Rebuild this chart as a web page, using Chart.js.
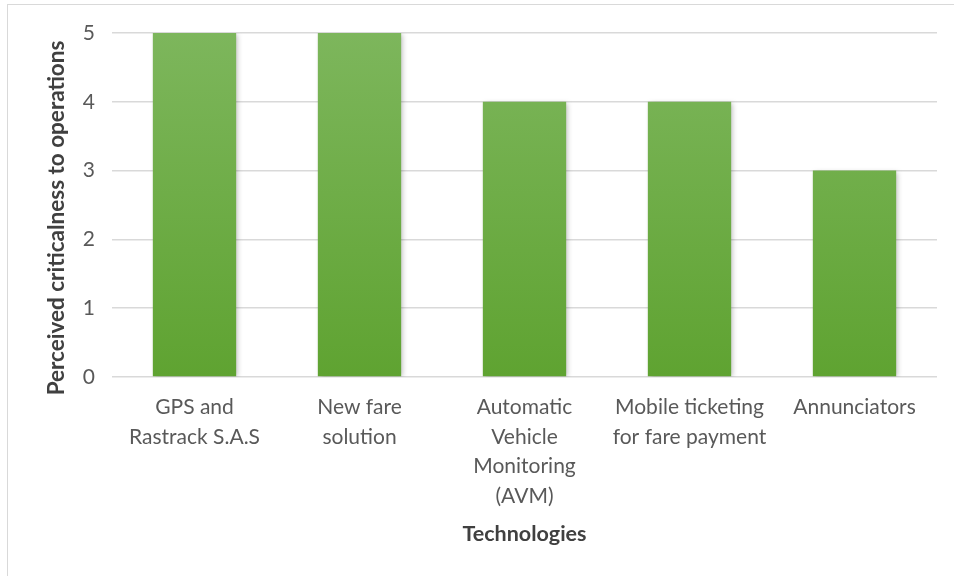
<!DOCTYPE html>
<html>
<head>
<meta charset="utf-8">
<script src="https://cdn.jsdelivr.net/npm/chart.js@4/dist/chart.umd.min.js"></script>
<style>
html,body{margin:0;padding:0;background:#fff;overflow:hidden;}
#wrap{position:relative;width:954px;height:576px;}
#frame{position:absolute;left:7px;top:4px;width:960px;height:600px;border-left:1.5px solid #d9d9d9;border-top:1.5px solid #d9d9d9;pointer-events:none;}
canvas{position:absolute;left:0;top:0;}
</style>
</head>
<body>
<div id="wrap">
<canvas id="c" width="954" height="576"></canvas>
<div id="frame"></div>
</div>
<script>
const categories = [
  ["GPS and", "Rastrack S.A.S"],
  ["New fare", "solution"],
  ["Automatic", "Vehicle", "Monitoring", "(AVM)"],
  ["Mobile ticketing", "for fare payment"],
  ["Annunciators"]
];
const criticalness = [5, 5, 4, 4, 3];
const yTicks = [0, 1, 2, 3, 4, 5];
const yTitle = 'Perceived criticalness to operations';
const xTitle = 'Technologies';

const FONT = "Lato, 'Open Sans', sans-serif";

function barGradient(ctx) {
  const chart = ctx.chart;
  const area = chart.chartArea;
  if (!area) return '#6aab44';
  const g = chart.ctx.createLinearGradient(0, area.top, 0, area.bottom);
  g.addColorStop(0, '#7db65c');
  g.addColorStop(1, '#5fa331');
  return g;
}

const shadowPlugin = {
  id: 'barShadow',
  beforeDatasetsDraw(chart) {
    const c = chart.ctx;
    c.save();
    c.shadowColor = 'rgba(0,0,0,0.25)';
    c.shadowBlur = 5;
    c.shadowOffsetX = 2;
    c.shadowOffsetY = 1;
  },
  afterDatasetsDraw(chart) {
    chart.ctx.restore();
  }
};

// y-axis title, placed slightly below the plot centre as in the original
const yTitlePlugin = {
  id: 'yTitle',
  afterDraw(chart) {
    const c = chart.ctx;
    const area = chart.chartArea;
    c.save();
    c.translate(57, (area.top + area.bottom) / 2 + 13);
    c.rotate(-Math.PI / 2);
    c.font = "bold 22.5px " + FONT;
    c.fillStyle = '#404040';
    c.textAlign = 'center';
    c.textBaseline = 'middle';
    c.fillText(yTitle, 0, 0);
    c.restore();
  }
};

new Chart(document.getElementById('c'), {
  type: 'bar',
  data: {
    labels: categories,
    datasets: [{
      data: criticalness,
      backgroundColor: barGradient,
      borderWidth: 0,
      barPercentage: 0.505,
      categoryPercentage: 1.0
    }]
  },
  options: {
    responsive: false,
    animation: false,
    layout: { padding: { left: 44, right: 17, top: 33, bottom: 29 } },
    plugins: { legend: { display: false }, tooltip: { enabled: false } },
    scales: {
      x: {
        afterFit(scale) { scale.height = 170; scale.paddingLeft = 0; scale.paddingRight = 0; },
        grid: { display: false },
        border: { display: false },
        ticks: {
          color: '#595959',
          font: { family: FONT, size: 21, lineHeight: 1.4 },
          maxRotation: 0,
          autoSkip: false,
          padding: 8
        },
        title: {
          display: true,
          text: xTitle,
          color: '#404040',
          font: { family: FONT, size: 21.5, weight: 'bold' },
          padding: { top: 0, bottom: 0 }
        }
      },
      y: {
        min: 0,
        max: 5,
        afterBuildTicks(scale) { scale.ticks = yTicks.map(v => ({ value: v })); },
        afterFit(scale) { scale.width = 68; },
        grid: { color: '#d9d9d9', lineWidth: 1.5, drawTicks: false },
        border: { display: false },
        ticks: {
          color: '#595959',
          font: { family: FONT, size: 21 },
          padding: 17
        },
        title: { display: false }
      }
    }
  },
  plugins: [shadowPlugin, yTitlePlugin]
});
</script>
</body>
</html>
